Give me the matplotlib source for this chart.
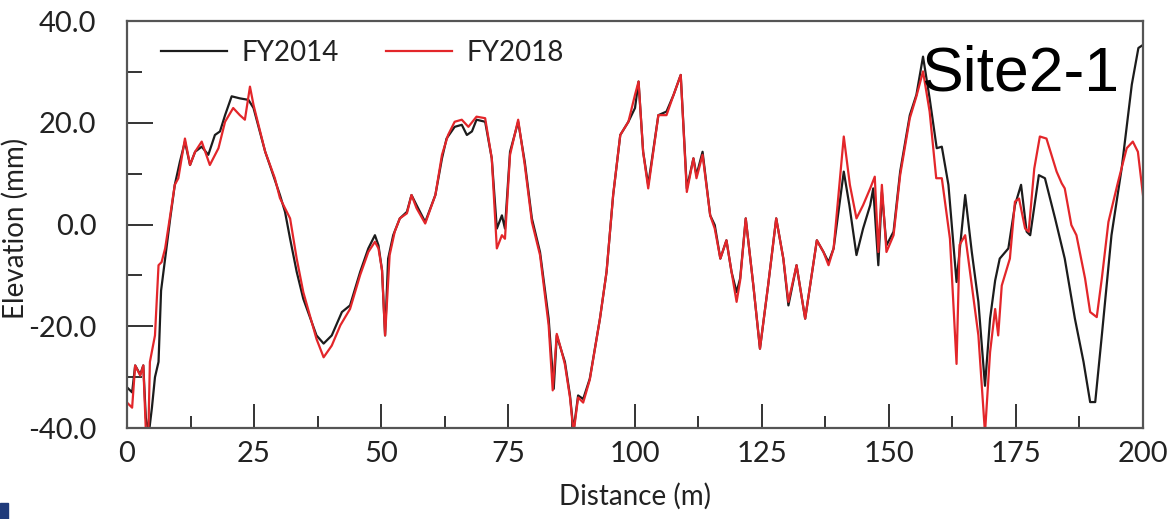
import numpy as np
import matplotlib.pyplot as plt
from matplotlib.patches import Rectangle
from matplotlib.ticker import MultipleLocator, FormatStrFormatter

plt.rcParams['font.family'] = ['Lato', 'DejaVu Sans']

# FY2014 profile (distance m, elevation mm)
dist_2014 = [0, 1.0, 1.6, 2.6, 3.2, 3.7, 4.3, 4.9, 5.5, 6.2, 6.7, 7.5, 8.5, 9.4, 10.4, 11.4,
             12.4, 13.4, 14.7, 16.0, 17.3, 18.3, 19.3, 20.6, 22.2, 23.9, 24.9, 27.2, 28.1,
             30.1, 31.1, 32.1, 33.4, 34.7, 36.0, 37.3, 38.7, 40.3, 42.3, 43.9, 45.9, 47.5,
             48.8, 49.5, 50.2, 50.8, 51.4, 52.4, 53.7, 55.1, 56.0, 57.0, 58.7, 60.7, 62.0,
             62.9, 64.5, 65.9, 66.9, 67.9, 68.8, 70.5, 71.8, 72.8, 73.8, 74.4, 75.4, 77.0,
             78.3, 79.7, 81.3, 83.0, 84.0, 84.6, 85.6, 86.2, 87.2, 87.9, 88.8, 89.8, 91.1,
             93.1, 94.4, 95.7, 97.1, 98.7, 100.0, 100.7, 101.6, 102.6, 104.6, 106.2, 107.6,
             109.0, 110.2, 111.5, 112.1, 113.3, 114.8, 115.7, 116.8, 118.0, 119.0, 120.0,
             120.7, 121.8, 123.3, 124.6, 126.2, 127.8, 129.2, 130.2, 131.8, 133.5, 135.8,
             137.1, 138.1, 139.1, 141.1, 142.2, 143.6, 144.9, 146.3, 146.9, 147.9, 148.6,
             149.5, 150.9, 152.2, 154.1, 155.4, 156.7, 158.0, 159.4, 160.4, 161.7, 163.3,
             165.0, 166.3, 167.6, 168.9, 169.9, 170.9, 171.8, 173.5, 174.8, 176.0, 177.1,
             177.8, 179.5, 180.7, 182.7, 184.6, 186.6, 188.3, 189.6, 190.6, 191.9, 193.8,
             195.8, 197.8, 199.1, 200.0]
elev_2014 = [-32, -33, -27.7, -29.5, -27.7, -38, -41, -36, -30, -27, -13, -6.7, 1.2, 7.8, 12.3, 16.3,
             11.7, 14.3, 15.3, 13.7, 17.6, 18.3, 21.5, 25.2, 24.8, 24.5, 22.9, 14.3, 11.7,
             5.8, 2.5, -2.8, -9.3, -14.6, -18.2, -21.8, -23.4, -21.8, -17.2, -15.9, -9.3, -4.7,
             -2.1, -4.1, -9, -21.8, -6.7, -2.1, 1.2, 2.5, 5.8, 3.8, 0.5, 5.8, 13,
             16.9, 19.2, 19.6, 17.6, 18.3, 20.6, 20.2, 13, -0.8, 1.8, -0.8, 14.3, 20.2,
             12.3, 1.2, -5.4, -18.5, -32.3, -21.8, -25.1, -27, -33.6, -40.5, -33.6, -34.3, -30.3,
             -18.5, -9.3, 5.8, 17.6, 20.2, 22.9, 28.1, 14.3, 7.8, 21.5, 22.2, 25.5,
             29.4, 7.1, 13, 9.7, 14.3, 1.8, -0.1, -6.7, -3.1, -9.3, -13.3,
             -10.6, 1.2, -12, -24.4, -12, 1.2, -6.7, -15.9, -8, -18.5, -3.1,
             -5.4, -7.4, -4.7, 10.4, 3.8, -6, -0.8, 3.8, 7.1, -8, 6.4,
             -4.1, -1.4, 10.4, 21.5, 25.5, 33, 24.8, 15, 15.3, 7.8, -11.3,
             5.8, -5.4, -15.2, -31.7, -18.5, -11, -6.7, -4.7, 3.8, 7.8, -1.4,
             -2.1, 9.7, 9.1, 1.2, -6.7, -18.5, -27, -34.9, -34.9, -21.8, -2.1,
             11, 27.5, 34.7, 35.3]

# FY2018 profile
dist_2018 = [0, 1.0, 1.6, 2.6, 3.2, 3.7, 4.2, 4.5, 5.5, 6.2, 6.8, 7.5, 8.5, 9.4, 10.1, 11.4,
             12.4, 13.4, 14.7, 16.3, 18.0, 19.3, 20.9, 22.2, 23.2, 24.2, 24.9, 27.2, 29.1,
             30.1, 31.1, 32.1, 33.4, 34.7, 36.0, 37.3, 38.7, 40.3, 42.0, 43.9, 45.9, 47.5,
             48.8, 49.5, 50.2, 50.8, 51.7, 52.7, 53.7, 55.1, 56.0, 57.0, 58.7, 60.7, 62.0,
             63.2, 64.5, 65.9, 67.2, 68.8, 70.5, 71.8, 72.8, 73.8, 74.4, 75.4, 77.0, 78.3,
             79.7, 81.3, 83.0, 83.8, 84.6, 85.6, 86.2, 87.2, 87.9, 88.8, 89.8, 91.1, 93.1,
             94.4, 95.7, 97.1, 98.7, 100.0, 100.7, 101.6, 102.6, 104.6, 106.2, 107.6, 109.0,
             110.2, 111.5, 112.1, 113.3, 114.8, 115.7, 116.8, 118.0, 119.0, 120.0, 120.7,
             121.8, 123.3, 124.6, 126.2, 127.8, 129.2, 130.2, 131.8, 133.5, 135.8, 137.1,
             138.1, 139.1, 141.1, 142.3, 143.6, 144.9, 146.3, 147.2, 147.9, 148.6, 149.5,
             150.9, 152.2, 154.1, 155.4, 156.7, 158.0, 159.3, 160.4, 162.0, 163.3, 163.9,
             165.0, 166.3, 167.6, 168.9, 169.9, 170.9, 171.5, 172.2, 173.8, 174.8, 175.6,
             176.8, 177.5, 178.6, 179.7, 181.0, 183.0, 184.0, 184.6, 185.9, 186.9, 188.6,
             189.6, 190.9, 191.9, 193.2, 195.1, 196.8, 198.0, 199.0, 200.0]
elev_2018 = [-35, -36, -27.7, -29.7, -27.7, -40.5, -41, -27, -21.8, -8, -7.4, -4.7, 1.8, 7.8, 9.1, 16.9,
             11.7, 14.3, 16.3, 11.7, 15, 20.2, 22.9, 21.5, 20.6, 27.1, 23.5, 14.3, 9.1,
             5.2, 3.2, 1.2, -6.7, -13.3, -17.9, -22.5, -26.1, -23.8, -19.8, -16.6, -9.9, -5.4,
             -3.4, -4.7, -9, -21.8, -6, -1.4, 1.2, 2.2, 5.8, 3.2, 0.2, 5.8, 13.7,
             17.6, 20.2, 20.6, 19.2, 21.2, 20.9, 13, -4.7, -2.1, -2.8, 13.7, 20.6, 11.7,
             0.5, -6, -19.8, -32.6, -21.5, -25.1, -27.5, -34, -41, -34, -35, -30.5, -18.5,
             -9.3, 5.8, 17.6, 20.2, 25.5, 28.1, 14.3, 7.1, 21.5, 21.5, 25.5, 29.4,
             6.4, 13, 9.1, 13.7, 1.8, -0.8, -6.7, -3.1, -9.3, -15.2, -11,
             1.2, -12, -24.4, -12, 1.2, -6.7, -15.2, -8, -18.5, -3.1, -5.4,
             -8, -4.7, 17.3, 7.8, 1.2, 3.8, 7.1, 9.4, -5.4, 7.8, -5.4,
             -2.1, 9.7, 20.9, 25.2, 30.1, 22.2, 9.1, 9.1, -2.8, -27.4, -4,
             -2.1, -11.9, -21.8, -41, -25.1, -16.6, -21.8, -12, -6.7, 4.5, 5.1,
             -0.8, -1.4, 11, 17.3, 16.9, 10.4, 8.1, 7.1, -0.1, -2.1, -10.6,
             -17.2, -18.2, -10.6, 0.5, 8.4, 15, 16.3, 14.3, 5.8]

x_ticks = [0, 25, 50, 75, 100, 125, 150, 175, 200]
y_ticks = [-40, -20, 0, 20, 40]

fig = plt.figure(figsize=(11.73, 5.19), dpi=100)
ax = fig.add_axes([0.1083, 0.1753, 0.8661, 0.7842])

ax.plot(dist_2014, elev_2014, color='#1c1c1c', lw=1.6, label='FY2014')
ax.plot(dist_2018, elev_2018, color='#e3262a', lw=1.6, label='FY2018')

ax.set_xlim(0, 200)
ax.set_ylim(-40, 40)
ax.set_xticks(x_ticks)
ax.set_yticks(y_ticks)
ax.xaxis.set_minor_locator(MultipleLocator(12.5))
ax.yaxis.set_minor_locator(MultipleLocator(10))
ax.yaxis.set_major_formatter(FormatStrFormatter('%.1f'))

ax.tick_params(axis='both', which='both', direction='in', color='#333333', width=1.4,
               labelsize=21, labelcolor='#222222')
ax.tick_params(axis='x', which='major', length=17, pad=9)
ax.tick_params(axis='x', which='minor', length=9)
ax.tick_params(axis='y', which='major', length=19, pad=22)
ax.tick_params(axis='y', which='minor', length=11)
for sp in ax.spines.values():
    sp.set_color('#555555')
    sp.set_linewidth(1.6)

ax.set_xlabel('Distance (m)', fontsize=20, color='#222222', labelpad=12)
ax.set_ylabel('Elevation (mm)', fontsize=20, color='#222222', labelpad=0)
ax.yaxis.set_label_coords(-0.097, 0.49)

ax.legend(loc='upper left', bbox_to_anchor=(0.033, 0.953), ncol=2, frameon=False,
          fontsize=20, handlelength=2.4, handletextpad=0.5, columnspacing=1.7,
          borderpad=0, borderaxespad=0, labelcolor='#222222')

ax.text(0.977, 0.83, 'Site2-1', transform=ax.transAxes, ha='right', va='baseline',
        fontsize=45, family='Liberation Sans', color='black')

fig.patches.append(Rectangle((0, 0), 8 / 1173, 16 / 519, transform=fig.transFigure,
                             color='#1f3a7a', zorder=10))

fig.savefig('out.png', dpi=100)
